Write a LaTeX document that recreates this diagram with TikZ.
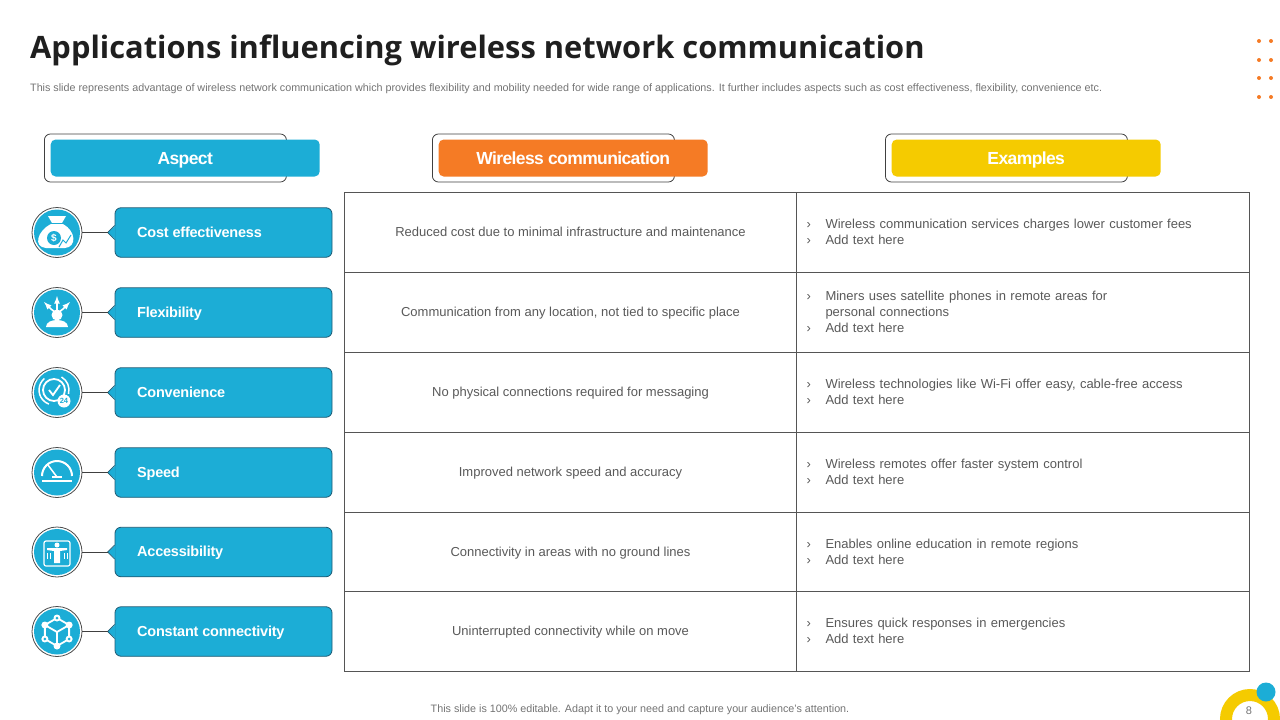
\documentclass[tikz,border=0pt]{standalone}
\usepackage{fontspec}
\setmainfont{Liberation Sans}
\newfontfamily\titlefont{Open Sans}
\usetikzlibrary{calc}

\definecolor{slideblue}{HTML}{1CADD6}
\definecolor{slideorange}{HTML}{F57B25}
\definecolor{slideyellow}{HTML}{F5CB00}
\definecolor{boxedge}{HTML}{1F5A73}
\definecolor{cellline}{HTML}{555555}
\definecolor{bodytext}{HTML}{595959}

\newcommand{\bul}[1]{\makebox[19pt][l]{›}#1}

\tikzset{
  outlinebox/.style={draw=black!75, fill=white, rounded corners=6pt, minimum width=242pt, minimum height=48pt, line width=0.8pt},
  headbox/.style={fill=#1, rounded corners=5pt, minimum width=269pt, minimum height=37pt, text=white, text height=15pt, text depth=2pt, font=\fontsize{17.5}{20}\selectfont\bfseries\addfontfeature{LetterSpace=-3.5}},
  aspectbox/.style={draw=boxedge, fill=slideblue, rounded corners=6pt, minimum width=217pt, minimum height=49.5pt, text=white, line width=0.8pt},
  aspecttext/.style={text=white, anchor=west, inner sep=0pt, text height=13pt, text depth=2pt, font=\fontsize{14.5}{18}\selectfont\bfseries\addfontfeature{LetterSpace=-1.5}},
  iconring/.style={circle, draw=black!70, fill=white, minimum size=50pt, inner sep=0pt, line width=0.8pt},
  iconfill/.style={circle, fill=slideblue, minimum size=46pt, inner sep=0pt},
  midcell/.style={draw=cellline, minimum width=452pt, line width=1pt, text=bodytext, text height=11pt, text depth=2pt, font=\fontsize{13}{16}\selectfont},
  excell/.style={draw=cellline, text width=433pt, inner xsep=10pt, inner ysep=0pt, line width=1pt, align=left, text=bodytext, font=\fontsize{13}{16}\selectfont},
  icon/.style={white, line width=1.2pt},
  smalldot/.style={circle, fill=slideorange, minimum size=4pt, inner sep=0pt},
}

\begin{document}
\begin{tikzpicture}[x=1pt, y=-1pt]
\useasboundingbox (0,0) rectangle (1280,720);
\clip (0,0) rectangle (1280,720);

\node [anchor=west, inner sep=0pt, text=black!88, font=\fontsize{30.85}{38}\selectfont\titlefont\bfseries] (title) at (30,50) {Applications influencing wireless network communication};
\node [anchor=west, inner sep=0pt, text=black!55, font=\fontsize{10.75}{12}\selectfont] (subtitle) at (30,89) {This slide represents advantage of wireless network communication which provides flexibility and mobility needed for wide range of applications. It further includes aspects such as cost effectiveness, flexibility, convenience etc.};

\foreach \x in {1259,1271}
\foreach \y in {41,60,78,97}
\node [smalldot] (dot\x\y) at (\x,\y) {};

\foreach \name/\xleft/\col/\htext in {aspect/44/slideblue/Aspect, wireless/432/slideorange/Wireless communication, examples/885/slideyellow/Examples} {
\node [outlinebox, anchor=west] (\name outline) at (\xleft,158) {};
\node [headbox=\col, anchor=west] (\name head) at ($(\name outline.west)+(6.5,0)$) {\htext};
}

\foreach \i/\ypos/\hgt/\aspect/\midtext/\extext in {
1/232/80/Cost effectiveness/Reduced cost due to minimal infrastructure and maintenance/{\bul{Wireless communication services charges lower customer fees}\\\bul{Add text here}},
2/312/80/Flexibility/{Communication from any location, not tied to specific place}/{\bul{Miners uses satellite phones in remote areas for}\\\hspace*{19pt}personal connections\\\bul{Add text here}},
3/392/80/Convenience/No physical connections required for messaging/{\bul{Wireless technologies like Wi-Fi offer easy, cable-free access}\\\bul{Add text here}},
4/472/80/Speed/Improved network speed and accuracy/{\bul{Wireless remotes offer faster system control}\\\bul{Add text here}},
5/551.5/79/Accessibility/Connectivity in areas with no ground lines/{\bul{Enables online education in remote regions}\\\bul{Add text here}},
6/631/80/Constant connectivity/Uninterrupted connectivity while on move/{\bul{Ensures quick responses in emergencies}\\\bul{Add text here}}} {
\node [midcell, minimum height=\hgt pt] (mid\i) at (570.5,\ypos) {\midtext};
\node [excell, minimum height=\hgt pt] (ex\i) at (1023,\ypos) {\extext};

\node [aspectbox] (box\i) at (223.5,\ypos+0.5) {};
\coordinate (tip\i) at ($(box\i.west)+(-7,0)$);
\fill [slideblue] ($(box\i.west)+(1,-7)$) -- (tip\i) -- ($(box\i.west)+(1,7)$) -- cycle;
\draw [boxedge, line width=0.8pt] ($(box\i.west)+(0,-7)$) -- (tip\i) -- ($(box\i.west)+(0,7)$);
\node [aspecttext] (label\i) at (137,\ypos-0.5) {\aspect};

\node [iconring] (ring\i) at (57,\ypos+0.5) {};
\node [iconfill] (disc\i) at (ring\i) {};
\draw [black!75, line width=0.8pt] (ring\i) -- (tip\i);
}

% money bag
\begin{scope}[shift={(57,233)}]
\fill [white] (-6,-9) .. controls (-20,-2) and (-24,14) .. (-11,15) -- (8,15) .. controls (20,14) and (19,-2) .. (6,-9) -- cycle;
\fill [white] (-9,-17) -- (9,-17) -- (5,-10) -- (-5,-10) -- cycle;
\draw [slideblue, line width=1pt] (-6,-10) -- (6,-10);
\fill [slideblue] (-3,5) circle (7);
\node [white, font=\fontsize{10}{10}\selectfont\bfseries] (dollar) at (-3,5) {\$};
\draw [slideblue, line width=1pt] (2,14) -- (6,7) -- (9,10) -- (14,2);
\end{scope}

% person with three arrows
\begin{scope}[shift={(57,312)}]
\fill [white] (0,3) circle (5.5);
\fill [white] (-11,15) .. controls (-11,10) and (-5,8) .. (0,8) .. controls (5,8) and (11,10) .. (11,15) -- cycle;
\draw [icon, line width=1.6pt, -latex] (0,-2) -- (0,-16);
\draw [icon, line width=1.6pt, -latex] (-2,0) -- (-6,-3) -- (-13,-10);
\draw [icon, line width=1.6pt, -latex] (2,0) -- (6,-3) -- (13,-10);
\end{scope}

% clock with 24
\begin{scope}[shift={(57,392)}]
\draw [icon, line width=1.8pt] (-3,-2) circle (11);
\draw [icon, line width=1.8pt] (-8,-2) -- (-4,3) -- (3,-7);
\draw [icon, line width=1.5pt] (-12.6,-13.5) arc (230:110:15);
\draw [icon, line width=1.5pt] (4.5,-15) arc (-60:15:15);
\fill [white] (7,9) circle (6.5);
\node [slideblue, font=\fontsize{7.5}{7.5}\selectfont\bfseries] (hours) at (7,9) {24};
\end{scope}

% gauge
\begin{scope}[shift={(57,476)}]
\draw [icon, line width=2pt] (-15,0) arc (180:360:15);
\draw [icon, line width=1.5pt] (-9,-11) -- (0,1);
\draw [icon, line width=1.5pt] (-5,1) -- (5,1);
\draw [icon] (-15,5) -- (15,5);
\end{scope}

% person in a frame
\begin{scope}[shift={(57,552)}]
\draw [icon, rounded corners=2pt] (-13,-11) rectangle (13,14);
\fill [white] (0,-7) circle (2.5);
\fill [white] (-10,-4) -- (10,-4) -- (10,-2) -- (3,-1) -- (3,11) -- (-3,11) -- (-3,-1) -- (-10,-2) -- cycle;
\foreach \x in {-10,-7,7,10}
\draw [white, line width=0.7pt] (\x,1) -- (\x,7);
\end{scope}

% network
\begin{scope}[shift={(57,632)}]
\draw [icon, line width=1.8pt] (90:14) -- (30:14) -- (-30:14) -- (-90:14) -- (-150:14) -- (150:14) -- cycle;
\draw [icon, line width=1.8pt] (0,0) -- (-150:14) (0,0) -- (-30:14) (0,0) -- (90:14);
\foreach \a in {-30,-150,90}
\fill [white] (\a:14) circle (3.5);
\foreach \a in {-90,30,150}
{\fill [white] (\a:14) circle (3.5);
\fill [slideblue] (\a:14) circle (1.5);}
\end{scope}

\node [text=black!55, inner sep=0pt, font=\fontsize{10.75}{12}\selectfont] (footer) at (640,710) {This slide is 100\% editable. Adapt it to your need and capture your audience's attention.};

\node [circle, draw=slideyellow, line width=12pt, minimum size=48pt] (ring) at (1250,719) {};
\node [circle, fill=slideblue, minimum size=19pt, inner sep=0pt] (blob) at (1266,692) {};
\node [text=black!55, font=\fontsize{11}{12}\selectfont] (page) at (1249,711) {8};
\end{tikzpicture}
\end{document}
